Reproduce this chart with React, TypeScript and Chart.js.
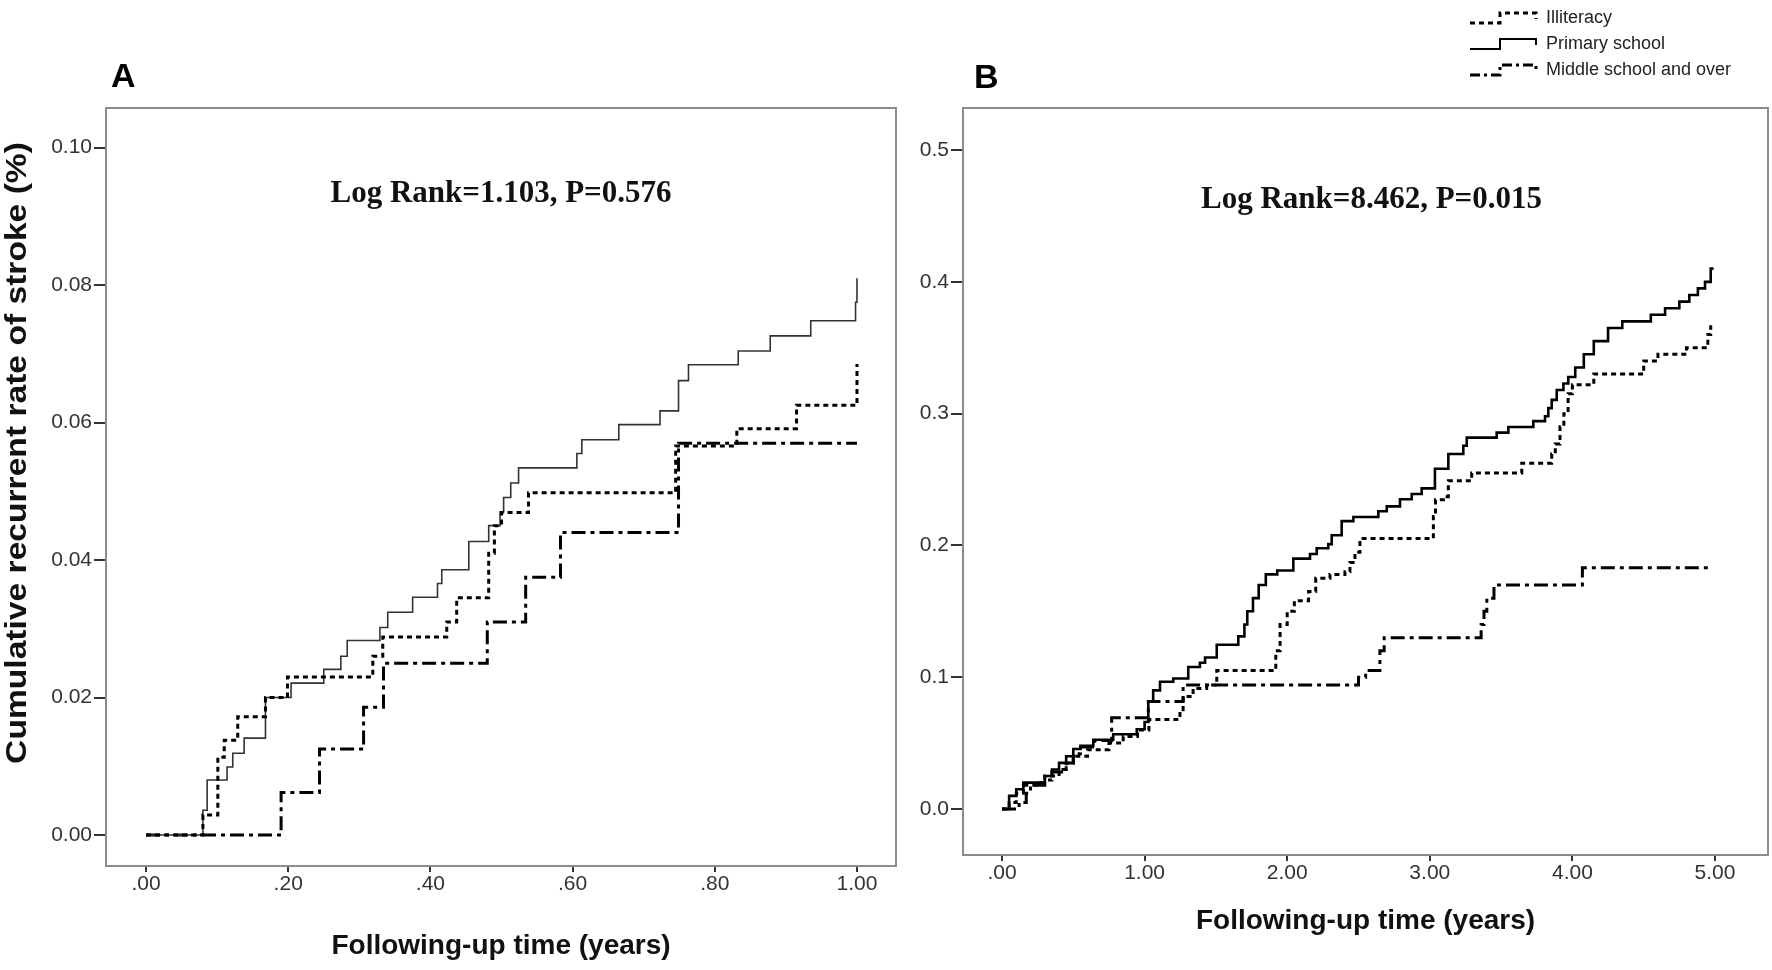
import React, { useEffect, useRef } from "react";
import { Chart, registerables } from "chart.js";

Chart.register(...registerables);

const W = 1772;
const H = 970;

// ---------- Labels ----------
const seriesNames = ["Illiteracy", "Primary school", "Middle school and over"];
const yTitle = "Cumulative recurrent rate of stroke (%)";
const xTitle = "Following-up time (years)";
const annotA = "Log Rank=1.103, P=0.576";
const annotB = "Log Rank=8.462, P=0.015";

// ---------- Panel A ticks ----------
const A_xTicks = [0, 0.2, 0.4, 0.6, 0.8, 1.0];
const A_xTickLabels = [".00", ".20", ".40", ".60", ".80", "1.00"];
const A_yTicks = [0, 0.02, 0.04, 0.06, 0.08, 0.1];
const A_yTickLabels = ["0.00", "0.02", "0.04", "0.06", "0.08", "0.10"];

// ---------- Panel B ticks ----------
const B_xTicks = [0, 1, 2, 3, 4, 5];
const B_xTickLabels = [".00", "1.00", "2.00", "3.00", "4.00", "5.00"];
const B_yTicks = [0, 0.1, 0.2, 0.3, 0.4, 0.5];
const B_yTickLabels = ["0.0", "0.1", "0.2", "0.3", "0.4", "0.5"];

// ---------- Panel A data (time in years, cumulative rate) ----------
const A_illit_t = [0, 0.08, 0.101, 0.11, 0.129, 0.168, 0.199, 0.319, 0.333, 0.423, 0.437, 0.482, 0.49, 0.5, 0.538, 0.745, 0.831, 0.915, 1.0];
const A_illit_v = [0, 0.0029, 0.0113, 0.0138, 0.0172, 0.02, 0.023, 0.026, 0.0288, 0.031, 0.0345, 0.041, 0.045, 0.0469, 0.0498, 0.0566, 0.0591, 0.0625, 0.0685];

const A_prim_t = [0, 0.08, 0.086, 0.114, 0.122, 0.138, 0.168, 0.204, 0.25, 0.274, 0.283, 0.329, 0.34, 0.375, 0.41, 0.416, 0.454, 0.482, 0.498, 0.503, 0.513, 0.524, 0.606, 0.613, 0.665, 0.723, 0.749, 0.763, 0.833, 0.878, 0.935, 0.998, 1.0];
const A_prim_v = [0, 0.0036, 0.008, 0.0099, 0.0119, 0.0141, 0.02, 0.0221, 0.0241, 0.026, 0.0283, 0.0302, 0.0324, 0.0346, 0.0366, 0.0386, 0.0427, 0.045, 0.047, 0.0491, 0.0512, 0.0534, 0.0555, 0.0575, 0.0597, 0.0617, 0.0661, 0.0684, 0.0704, 0.0726, 0.0748, 0.0775, 0.081];

const A_mid_t = [0, 0.19, 0.244, 0.306, 0.334, 0.48, 0.534, 0.583, 0.749, 1.0];
const A_mid_v = [0, 0.0062, 0.0125, 0.0186, 0.025, 0.031, 0.0375, 0.044, 0.057, 0.057];

// ---------- Panel B data ----------
const B_illit_t = [0, 0.05, 0.1, 0.15, 0.25, 0.3, 0.4, 0.45, 0.5, 0.6, 0.75, 0.85, 0.95, 1.03, 1.248, 1.27, 1.34, 1.435, 1.506, 1.92, 1.95, 2.0, 2.05, 2.15, 2.2, 2.3, 2.405, 2.44, 2.475, 2.51, 3.025, 3.04, 3.095, 3.13, 3.294, 3.645, 3.855, 3.88, 3.913, 3.94, 3.97, 4.0, 4.15, 4.5, 4.6, 4.8, 4.95, 4.97];
const B_illit_v = [0, 0.005, 0.012, 0.018, 0.02, 0.025, 0.03, 0.035, 0.04, 0.045, 0.05, 0.055, 0.06, 0.068, 0.0754, 0.0853, 0.0915, 0.094, 0.105, 0.12, 0.14, 0.15, 0.158, 0.165, 0.175, 0.178, 0.18, 0.187, 0.1948, 0.2052, 0.222, 0.2346, 0.237, 0.249, 0.255, 0.2624, 0.2694, 0.2769, 0.29, 0.3, 0.315, 0.322, 0.33, 0.34, 0.345, 0.35, 0.36, 0.367];

const B_prim_t = [0, 0.05, 0.1, 0.15, 0.3, 0.35, 0.4, 0.45, 0.5, 0.55, 0.64, 0.78, 0.945, 1.0, 1.026, 1.06, 1.108, 1.201, 1.306, 1.388, 1.424, 1.506, 1.657, 1.7, 1.72, 1.76, 1.8, 1.85, 1.93, 2.043, 2.16, 2.207, 2.288, 2.312, 2.382, 2.464, 2.639, 2.698, 2.791, 2.873, 2.943, 3.036, 3.13, 3.235, 3.259, 3.469, 3.551, 3.726, 3.808, 3.831, 3.855, 3.89, 3.937, 3.971, 4.02, 4.08, 4.15, 4.25, 4.35, 4.55, 4.65, 4.75, 4.82, 4.88, 4.93, 4.97, 4.99];
const B_prim_v = [0, 0.01, 0.015, 0.02, 0.025, 0.03, 0.035, 0.04, 0.0455, 0.048, 0.0525, 0.0567, 0.0605, 0.066, 0.0816, 0.09, 0.0965, 0.099, 0.1077, 0.111, 0.115, 0.1246, 0.131, 0.14, 0.15, 0.16, 0.17, 0.178, 0.181, 0.19, 0.1935, 0.1978, 0.201, 0.2077, 0.2184, 0.2216, 0.2259, 0.2296, 0.235, 0.239, 0.2433, 0.2582, 0.2694, 0.2756, 0.2818, 0.2856, 0.2898, 0.2943, 0.298, 0.3042, 0.3104, 0.3179, 0.3229, 0.3278, 0.335, 0.345, 0.355, 0.365, 0.37, 0.375, 0.38, 0.385, 0.39, 0.395, 0.4, 0.41, 0.41];

const B_mid_t = [0, 0.12, 0.17, 0.2, 0.3, 0.35, 0.45, 0.5, 0.55, 0.65, 0.769, 1.026, 1.27, 2.5, 2.55, 2.65, 2.68, 3.36, 3.38, 3.4, 3.45, 4.07, 4.97];
const B_mid_v = [0, 0.005, 0.012, 0.018, 0.022, 0.028, 0.035, 0.042, 0.047, 0.052, 0.0692, 0.0816, 0.094, 0.1, 0.105, 0.12, 0.13, 0.14, 0.15, 0.16, 0.17, 0.183, 0.183];

// ---------- styles ----------
const SANS = '"Liberation Sans", Arial, sans-serif';
const SERIF = '"Liberation Serif", "Times New Roman", serif';
const FRAME = "#8c8c8c";
const DOT_DASH = [5, 4];
const DASHDOT = [14, 5, 4, 5];

function zip(t: number[], v: number[]) {
  return t.map((x, i) => ({ x, y: v[i] }));
}

function lookup(ticks: number[], labels: string[], v: number) {
  const i = ticks.findIndex((t) => Math.abs(t - v) < 1e-9);
  return i >= 0 ? labels[i] : "";
}

type PanelCfg = {
  width: number;
  chartLeft: number;
  chartRight: number;
  chartTop: number;
  chartBottom: number;
  xMin: number;
  xMax: number;
  yMin: number;
  yMax: number;
  xTicks: number[];
  xLabels: string[];
  yTicks: number[];
  yLabels: string[];
  titleBottomPad: number;
  letter: string;
  letterX: number;
  letterY: number;
  annot: string;
  annotDx: number;
  annotY: number;
  solidWidth: number;
  solidColor: string;
  series: { t: number[]; v: number[] }[];
  drawYTitle: boolean;
  drawLegend: boolean;
  legendX: number;
};

function legendSample(ctx: CanvasRenderingContext2D, x: number, y: number, dash: number[], lw: number) {
  ctx.save();
  ctx.setLineDash(dash);
  ctx.lineWidth = lw;
  ctx.strokeStyle = "#000";
  ctx.beginPath();
  ctx.moveTo(x, y + 5);
  ctx.lineTo(x + 30, y + 5);
  ctx.lineTo(x + 30, y - 5);
  ctx.lineTo(x + 66, y - 5);
  ctx.lineTo(x + 66, y + 1);
  ctx.stroke();
  ctx.restore();
}

function buildConfig(p: PanelCfg): any {
  const dashes = [DOT_DASH, [], DASHDOT];
  const widths = [3, p.solidWidth, 3];
  const colors = ["#000", p.solidColor, "#000"];
  const datasets = p.series.map((s, i) => ({
    label: seriesNames[i],
    data: zip(s.t, s.v),
    stepped: true,
    borderColor: colors[i],
    borderWidth: widths[i],
    borderDash: dashes[i],
    pointRadius: 0,
    fill: false,
    tension: 0,
  }));

  const textPlugin = {
    id: "texts" + p.letter,
    beforeDatasetsDraw(chart: any) {
      const { ctx, chartArea } = chart;
      ctx.save();
      ctx.strokeStyle = FRAME;
      ctx.lineWidth = 2;
      ctx.strokeRect(chartArea.left, chartArea.top, chartArea.right - chartArea.left, chartArea.bottom - chartArea.top);
      ctx.restore();
    },
    afterDraw(chart: any) {
      const { ctx, chartArea } = chart;
      ctx.save();
      ctx.fillStyle = "#000";
      ctx.font = `bold 34px ${SANS}`;
      ctx.textAlign = "left";
      ctx.textBaseline = "alphabetic";
      ctx.fillText(p.letter, p.letterX, p.letterY);

      ctx.font = `bold 31px ${SERIF}`;
      ctx.textAlign = "center";
      ctx.textBaseline = "middle";
      ctx.fillStyle = "#111";
      ctx.fillText(p.annot, (chartArea.left + chartArea.right) / 2 + p.annotDx, p.annotY);

      if (p.drawYTitle) {
        ctx.save();
        ctx.translate(18, 453);
        ctx.rotate(-Math.PI / 2);
        ctx.scale(1.12, 1);
        ctx.font = `bold 30px ${SANS}`;
        ctx.fillStyle = "#111";
        ctx.textAlign = "center";
        ctx.textBaseline = "middle";
        ctx.fillText(yTitle, 0, 0);
        ctx.restore();
      }

      if (p.drawLegend) {
        const rows = [18, 44, 70];
        const lw = [3, 2, 3];
        const ds = [DOT_DASH, [], [10, 4, 3, 4]];
        rows.forEach((ry, i) => {
          legendSample(ctx, p.legendX, ry, ds[i] as number[], lw[i]);
          ctx.font = `18px ${SANS}`;
          ctx.fillStyle = "#222";
          ctx.textAlign = "left";
          ctx.textBaseline = "middle";
          ctx.fillText(seriesNames[i], p.legendX + 76, ry);
        });
      }
      ctx.restore();
    },
  };

  const tickFont = { family: SANS, size: 21 };
  return {
    type: "line",
    data: { datasets },
    plugins: [textPlugin],
    options: {
      animation: false,
      responsive: false,
      maintainAspectRatio: false,
      devicePixelRatio: 1,
      layout: { padding: { top: p.chartTop, right: p.width - p.chartRight, left: 0, bottom: 0 } },
      plugins: { legend: { display: false }, tooltip: { enabled: false }, title: { display: false } },
      scales: {
        x: {
          type: "linear",
          min: p.xMin,
          max: p.xMax,
          afterBuildTicks: (s: any) => {
            s.ticks = p.xTicks.map((v) => ({ value: v }));
          },
          afterFit: (s: any) => {
            s.height = H - p.chartBottom;
          },
          ticks: {
            callback: (v: number) => lookup(p.xTicks, p.xLabels, v),
            font: tickFont,
            color: "#333",
            padding: 0,
            maxRotation: 0,
            autoSkip: false,
          },
          grid: { display: true, drawOnChartArea: false, drawTicks: true, tickLength: 6, color: "#333", lineWidth: 2 },
          border: { display: true, color: FRAME, width: 2 },
          title: {
            display: true,
            text: xTitle,
            font: { family: SANS, size: 28, weight: "bold" },
            color: "#111",
            padding: { top: 0, bottom: p.titleBottomPad },
          },
        },
        y: {
          type: "linear",
          min: p.yMin,
          max: p.yMax,
          afterBuildTicks: (s: any) => {
            s.ticks = p.yTicks.map((v) => ({ value: v }));
          },
          afterFit: (s: any) => {
            s.width = p.chartLeft;
          },
          ticks: {
            callback: (v: number) => lookup(p.yTicks, p.yLabels, v),
            font: tickFont,
            color: "#333",
            padding: 2,
            autoSkip: false,
          },
          grid: { display: true, drawOnChartArea: false, drawTicks: true, tickLength: 12, color: "#333", lineWidth: 2 },
          border: { display: true, color: FRAME, width: 2 },
        },
      },
    },
  };
}

const panelA: PanelCfg = {
  width: 900,
  chartLeft: 106,
  chartRight: 896,
  chartTop: 108,
  chartBottom: 866,
  xMin: -0.0563,
  xMax: 1.0549,
  yMin: -0.0045,
  yMax: 0.10575,
  xTicks: A_xTicks,
  xLabels: A_xTickLabels,
  yTicks: A_yTicks,
  yLabels: A_yTickLabels,
  titleBottomPad: 7,
  letter: "A",
  letterX: 111,
  letterY: 87,
  annot: annotA,
  annotDx: 0,
  annotY: 194,
  solidWidth: 1.6,
  solidColor: "#333",
  series: [
    { t: A_illit_t, v: A_illit_v },
    { t: A_prim_t, v: A_prim_v },
    { t: A_mid_t, v: A_mid_v },
  ],
  drawYTitle: true,
  drawLegend: false,
  legendX: 0,
};

const panelB: PanelCfg = {
  width: 872,
  chartLeft: 63,
  chartRight: 868,
  chartTop: 108,
  chartBottom: 855,
  xMin: -0.2735,
  xMax: 5.3717,
  yMin: -0.0349,
  yMax: 0.5319,
  xTicks: B_xTicks,
  xLabels: B_xTickLabels,
  yTicks: B_yTicks,
  yLabels: B_yTickLabels,
  titleBottomPad: 32,
  letter: "B",
  letterX: 74,
  letterY: 88,
  annot: annotB,
  annotDx: 6,
  annotY: 200,
  solidWidth: 2.6,
  solidColor: "#000",
  series: [
    { t: B_illit_t, v: B_illit_v },
    { t: B_prim_t, v: B_prim_v },
    { t: B_mid_t, v: B_mid_v },
  ],
  drawYTitle: false,
  drawLegend: true,
  legendX: 570,
};

function Panel({ cfg, left }: { cfg: PanelCfg; left: number }) {
  const ref = useRef<HTMLCanvasElement | null>(null);
  useEffect(() => {
    if (!ref.current) return;
    const chart = new Chart(ref.current, buildConfig(cfg));
    return () => chart.destroy();
  }, [cfg]);
  return (
    <canvas
      ref={ref}
      width={cfg.width}
      height={H}
      style={{ position: "absolute", left, top: 0, width: cfg.width, height: H, display: "block" }}
    />
  );
}

export default function App() {
  return (
    <div style={{ position: "absolute", left: 0, top: 0, width: W, height: H, background: "#fff", overflow: "hidden" }}>
      <Panel cfg={panelA} left={0} />
      <Panel cfg={panelB} left={900} />
    </div>
  );
}
